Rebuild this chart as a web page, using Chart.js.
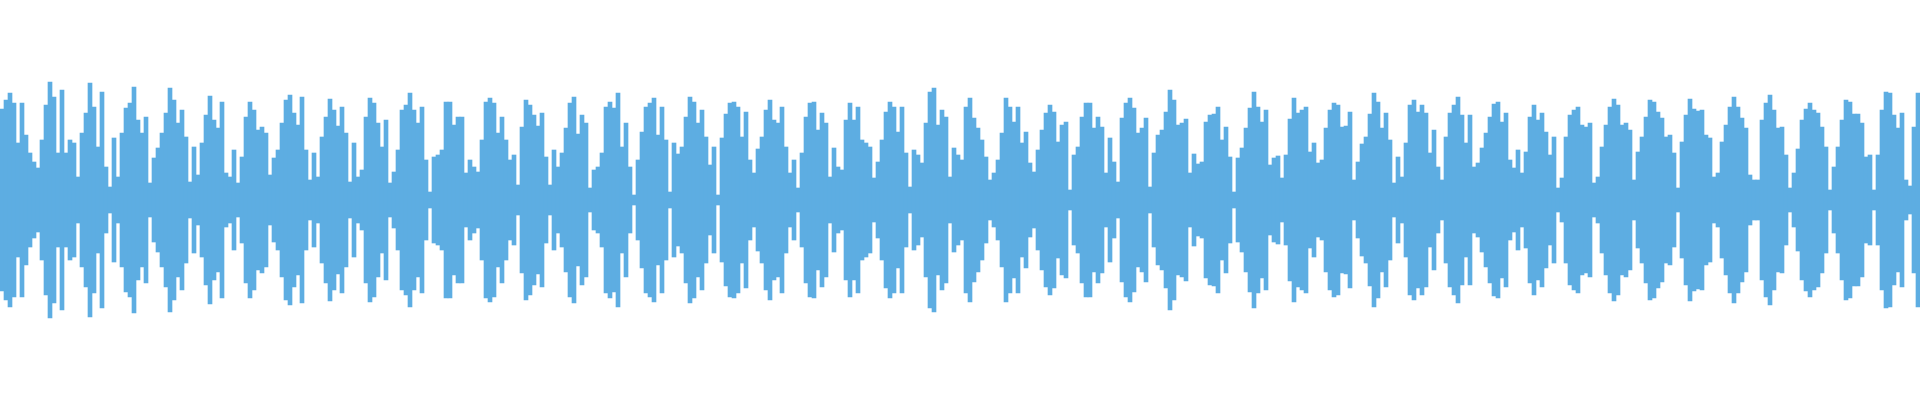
<!DOCTYPE html>
<html>
<head>
<meta charset="utf-8">
<script src="https://cdn.jsdelivr.net/npm/chart.js@4/dist/chart.umd.min.js"></script>
<style>
  html, body { margin: 0; padding: 0; background: #ffffff; }
  #wrap { width: 1920px; height: 400px; position: relative; }
</style>
</head>
<body>
<div id="wrap"><canvas id="c"></canvas></div>
<script>
// Waveform envelope amplitude (one value per 4-px column)
const envelope0000 = [91,100,107,97,57,97,65,47,38,32,60,95,118,103,47,110,47,60,57,23,67,87,117,93,53,108,33,13,62,23,67,92,97,113,80,67,83,17,42,52,67,87,112,100,77,90,63,18,53,25,57,85,104,80,72,98,27,23,50,17,43,83,98,90,70,73,67,25,42,50,77,100,105,87,75];
const envelope0300 = [103,50,20,47,23,63,83,101,90,74,93,67,18,57,23,30,83,102,97,77,53,80,17,28,50,90,95,107,90,77,93,40,8,43,45,50,98,98,75,83,83,27,40,33,28,60,98,102,97,67];
const envelope0500 = [83,60,40,45,15,73,100,95,85,74,87,43,15,50,33,47,72,97,103,66,85,77,12,30,33,47,93,98,92,107,53,77,33,5,40,68,93,97,102,65,93,60,8,57,46,53,83,103,98,77];
const envelope0700 = [90,63,35,53,5,62,86,97,98,93,63,88,40,27,51,63,90,100,80,77,93,53,27,40,12];
const envelope0800 = [47,83,97,98,70,87,77,23,52,33,30,80,97,80,93,60,57,53,22,38,60,88,98,93,68,93,47,13,50,45,37,77,108,112,75,90,83,23,52,45,40,93,102,82,72,60,43,20,27,40];
const envelope1000 = [67,102,93,78,93,57,68,37,28,50,70,87,95,88,58,75,78,10,45,53,83,97,97,72,83,73,27,62,38,18,82,97,102,92,67,72,82,13,47,65,70,88,110,100,75,77,81,27,46,36];
const envelope1200 = [38,78,85,86,93,60,73,43,8,42,52,72,92,108,93,78,90,35,42,44,22,45,81,102,87,90,93,48,57,37,40,72,90,97,95,73,74,88,20,38,56,63,86,107,98,72,87,60,17,43];
const envelope1400 = [23,57,95,100,88,95,87,47,70,33,20,63,87,95,103,85,57,85,33,37,52,67,83,96,98,78,87,40,32,50,27,48,83,95,80,87,68,45];
const envelope1552 = [63,12,22,63,85,90,93,75,73,77,17,23,53,75,93,101,95,75,77,70,20,48,63,83,100,98,88,82,63,65,47,12,58,85,101,91,89];
const envelope1700 = [90,65,62,23,27,58,75,93,103,93,82,72,25,20,20,80,97,105,90,72,73,45,12,27,51,80,91,97,90,87,73,53,10,33,53,80,100,98,86,86,77,43,45,10,45,90,108,107,85,72,87,20,14,73,107];

const envelope = [].concat(envelope0000, envelope0300, envelope0500, envelope0700, envelope0800,
                           envelope1000, envelope1200, envelope1400, envelope1552, envelope1700);
const sampleLabels = envelope.map((_, i) => String(i));
const yRange = [-200, 200];
const waveColor = '#5DADE2';

const bars = envelope.map(a => [-a, a]);

new Chart(document.getElementById('c'), {
  type: 'bar',
  data: {
    labels: sampleLabels,
    datasets: [{
      data: bars,
      backgroundColor: waveColor,
      borderWidth: 0,
      borderSkipped: false,
      categoryPercentage: 1.0,
      barPercentage: 1.0
    }]
  },
  options: {
    responsive: true,
    maintainAspectRatio: false,
    animation: false,
    layout: { padding: 0 },
    plugins: { legend: { display: false }, tooltip: { enabled: false } },
    scales: {
      x: { display: false, grid: { display: false } },
      y: { display: false, min: yRange[0], max: yRange[1], grid: { display: false } }
    }
  }
});
</script>
</body>
</html>
